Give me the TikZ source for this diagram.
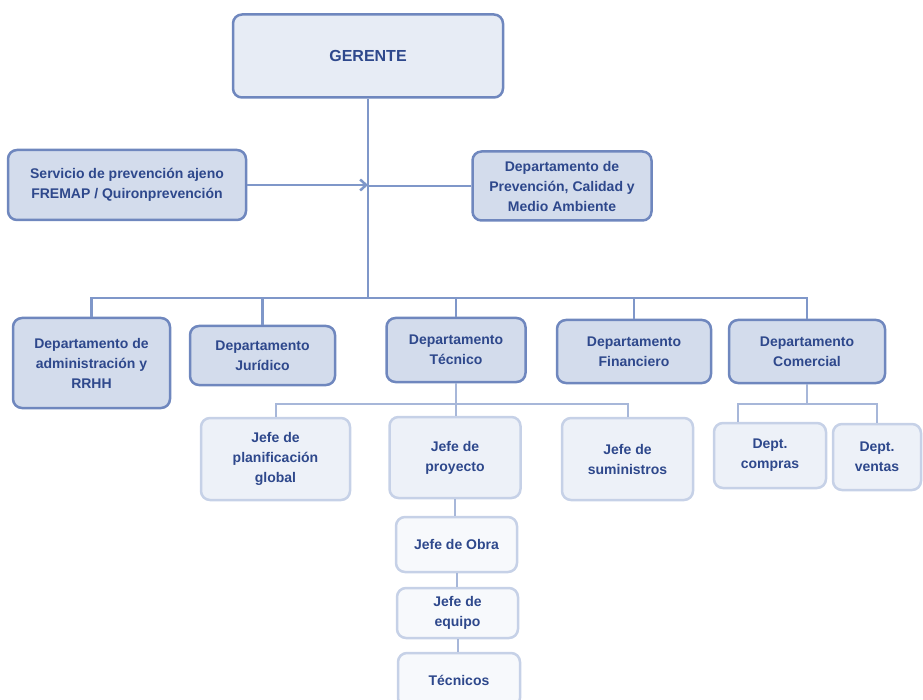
\documentclass[tikz,border=0pt]{standalone}
\usepackage{fontspec}
\setmainfont{Liberation Sans}
\usetikzlibrary{arrows.meta}
\definecolor{navy}{HTML}{2E488C}
\definecolor{boxline}{HTML}{6F87BE}
\definecolor{topfill}{HTML}{D3DCEC}
\definecolor{gerfill}{HTML}{E7ECF5}
\definecolor{subline}{HTML}{C6D1E7}
\definecolor{subfill}{HTML}{EDF1F8}
\definecolor{lowfill}{HTML}{F7F9FC}
\definecolor{linkcol}{HTML}{7F97C9}
\definecolor{sublinkcol}{HTML}{A7B7D9}
\begin{document}
\begin{tikzpicture}[x=1pt, y=-1pt, >={Straight Barb[length=6pt,width=11pt]},
    dept/.style={draw=boxline, line width=2.5pt, fill=topfill, rounded corners=9pt,
        text=navy, align=center, inner sep=0pt,
        font=\bfseries\fontsize{14}{20}\selectfont},
    jefe/.style={dept, draw=subline, fill=subfill},
    staff/.style={jefe, fill=lowfill},
    link/.style={draw=linkcol, line width=2.5pt},
    sublink/.style={draw=sublinkcol, line width=2pt}]
    \useasboundingbox (0,0) rectangle (923,700);
    \clip (0,0) rectangle (923,700);
    % direccion
    \node[dept, fill=gerfill, minimum width=270, minimum height=83,
        font=\bfseries\fontsize{16}{20}\selectfont] (ger) at (368,56) {GERENTE};
    \node[dept, minimum width=238, minimum height=70] (serv) at (127,185)
        {Servicio de prevención ajeno\\FREMAP / Quironprevención};
    \node[dept, minimum width=179, minimum height=69] (prev) at (562,186)
        {Departamento de\\Prevención, Calidad y\\Medio Ambiente};
    % departamentos
    \node[dept, minimum width=157, minimum height=90] (adm) at (91.5,363)
        {Departamento de\\administración y\\RRHH};
    \node[dept, minimum width=145, minimum height=59] (jur) at (262.5,355.5)
        {Departamento\\Jurídico};
    \node[dept, minimum width=139, minimum height=64] (tec) at (456,350)
        {Departamento\\Técnico};
    \node[dept, minimum width=154, minimum height=63] (fin) at (634,351.5)
        {Departamento\\Financiero};
    \node[dept, minimum width=156, minimum height=63] (com) at (807,351.5)
        {Departamento\\Comercial};
    % jefes
    \node[jefe, minimum width=149, minimum height=82] (plan) at (275.5,459)
        {Jefe de\\planificación\\global};
    \node[jefe, minimum width=131, minimum height=81] (proy) at (455,457.5)
        {Jefe de\\proyecto};
    \node[jefe, minimum width=131, minimum height=82] (sum) at (627.5,459)
        {Jefe de\\suministros};
    \node[jefe, minimum width=112, minimum height=65] (comp) at (770,455.5)
        {Dept.\\compras};
    \node[jefe, minimum width=88, minimum height=66] (vent) at (877,457)
        {Dept.\\ventas};
    \node[staff, minimum width=121, minimum height=55] (obra) at (456.5,544.5)
        {Jefe de Obra};
    \node[staff, minimum width=121, minimum height=50] (equ) at (457.5,613)
        {Jefe de\\equipo};
    \node[staff, minimum width=122, minimum height=54] (tecs) at (459,680)
        {Técnicos};
    % conexiones
    \coordinate (hub) at (368,298);
    \coordinate (tj) at (455,404);
    \coordinate (cj) at (807,404);
    \draw[link] (ger.south) -- (hub);
    \draw[link, ->] (serv.east) -- (serv -| ger);
    \draw[link] (prev.west) -- (prev.west -| ger);
    \draw[link] (adm.north) |- (hub) -| (com.north);
    \draw[link] (jur.north) -- (jur.north |- hub);
    \draw[link] (tec.north) -- (tec.north |- hub);
    \draw[link] (fin.north) -- (fin.north |- hub);
    \draw[sublink] (tec.south) -- (tec.south |- proy.north);
    \draw[sublink] (plan.north) |- (tj) -| (sum.north);
    \draw[sublink] (com.south) -- (cj);
    \draw[sublink] ([xshift=-32pt]comp.north) |- (cj) -| (vent.north);
    \draw[sublink] (proy.south) -- (proy.south |- obra.north);
    \draw[sublink] (obra.south) -- (obra.south |- equ.north);
    \draw[sublink] (equ.south) -- (equ.south |- tecs.north);
\end{tikzpicture}
\end{document}
